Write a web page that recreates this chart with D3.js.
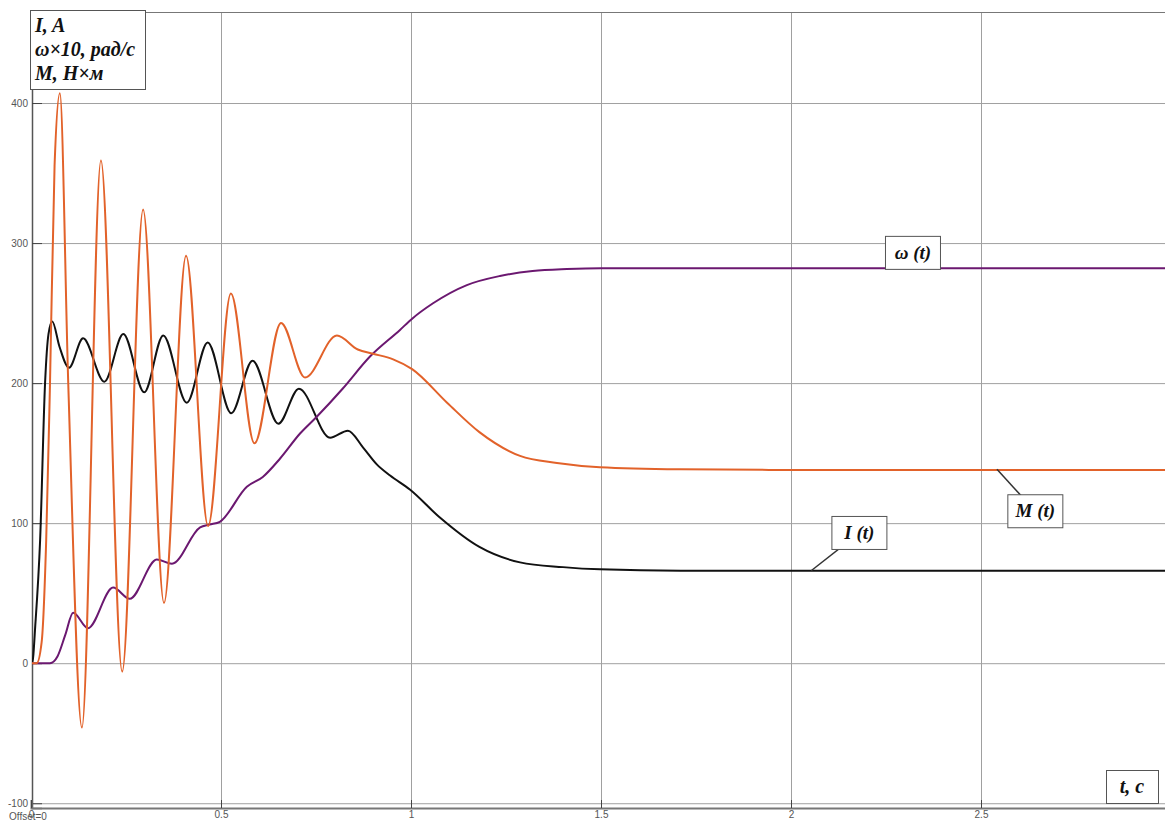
<!DOCTYPE html>
<html>
<head>
<meta charset="utf-8">
<script src="https://cdn.jsdelivr.net/npm/d3@7"></script>
<style>
  body { margin: 0; background: #fff; }
  svg { display: block; }
</style>
</head>
<body>
<div id="chart"></div>
<script>
// Current I(t), A
const iTime = [0, 0.003, 0.012, 0.024, 0.037, 0.046, 0.056, 0.075, 0.1, 0.137, 0.193, 0.243, 0.298, 0.348, 0.41, 0.465, 0.527, 0.583, 0.651, 0.705, 0.787, 0.834, 0.874, 0.91, 0.945, 0.997, 1.076, 1.18, 1.287, 1.4, 1.497, 1.71, 2.0, 2.5, 3.0];
const iValue = [0, 0, 30, 88, 200, 235, 244, 226, 211, 232, 201, 235, 193.5, 234, 186, 229, 178.5, 216, 171, 196, 161, 166, 154, 142, 134, 124, 104, 83, 72, 68.6, 67, 66, 66, 66, 66];

// Speed ω×10, рад/с
const wTime = [0, 0.05, 0.07, 0.09, 0.111, 0.15, 0.216, 0.26, 0.331, 0.371, 0.445, 0.47, 0.497, 0.568, 0.61, 0.655, 0.708, 0.752, 0.82, 0.892, 0.971, 1.003, 1.058, 1.147, 1.234, 1.32, 1.41, 1.5, 2.0, 3.0];
const wValue = [0, 0, 5, 20, 36, 25, 54, 46, 74, 71, 97, 99, 101, 126, 133, 146, 164, 176, 196, 219, 238, 246, 257, 270, 276.5, 280, 281.4, 282, 282, 282];

// Torque M(t), Н×м
const mTime = [0, 0.015, 0.028, 0.04, 0.05, 0.062, 0.076, 0.098, 0.134, 0.184, 0.24, 0.295, 0.35, 0.408, 0.466, 0.526, 0.588, 0.658, 0.721, 0.805, 0.86, 0.9, 0.953, 1.003, 1.095, 1.18, 1.287, 1.384, 1.497, 1.708, 2.0, 3.0];
const mValue = [0, 0, 15, 88, 200, 355, 407, 200, -46, 359, -6, 324, 43, 291, 98, 264, 157, 243, 204, 234, 224, 221, 217, 210, 186, 165, 148, 143, 140, 138.5, 138, 138];

const xTicks = [0, 0.5, 1, 1.5, 2, 2.5];
const yTicks = [-100, 0, 100, 200, 300, 400];

// curve labels: box centre and the point on the curve the leader goes to
const labelText = ['ω (t)', 'M (t)', 'I (t)'];
const labelBox = [[2.321, 293], [2.643, 108.5], [2.18, 93]];
const labelAnchor = [[2.292, 282], [2.542, 138.5], [2.053, 66]];

const W = 1165, H = 821;
const plotLeft = 32, plotTop = 12, plotBottom = 808;

const x = d3.scaleLinear().domain([0, 3]).range([31, 1171]);
const y = d3.scaleLinear().domain([-103.4, 465]).range([plotBottom, plotTop]);

const svg = d3.select('#chart').append('svg')
  .attr('width', W)
  .attr('height', H)
  .style('font-family', 'Liberation Sans, Arial, sans-serif');

svg.append('rect').attr('width', W).attr('height', H).attr('fill', '#fff');

svg.append('clipPath').attr('id', 'plot')
  .append('rect')
  .attr('x', plotLeft).attr('y', plotTop)
  .attr('width', W - plotLeft).attr('height', plotBottom - plotTop);

// grid
svg.append('g')
  .attr('transform', `translate(${plotLeft},0)`)
  .call(d3.axisLeft(y).tickValues(yTicks).tickSize(-(W - plotLeft)).tickFormat(''))
  .call(g => g.select('.domain').remove())
  .call(g => g.selectAll('line').attr('stroke', '#a0a0a0'));

svg.append('g')
  .attr('transform', `translate(0,${plotBottom})`)
  .call(d3.axisBottom(x).tickValues(xTicks.slice(1)).tickSize(-(plotBottom - plotTop)).tickFormat(''))
  .call(g => g.select('.domain').remove())
  .call(g => g.selectAll('line').attr('stroke', '#a0a0a0'));

// top frame
svg.append('line')
  .attr('x1', plotLeft).attr('x2', W)
  .attr('y1', plotTop + 0.5).attr('y2', plotTop + 0.5)
  .attr('stroke', '#777');

// axes
const yAxis = svg.append('g')
  .attr('transform', `translate(${plotLeft},0)`)
  .call(d3.axisLeft(y).tickValues(yTicks).tickSize(-10).tickPadding(4).tickFormat(d => String(d)))
  .call(g => g.select('.domain').attr('stroke', '#555').attr('stroke-width', 1.5));
yAxis.selectAll('line').attr('stroke', '#444');
yAxis.selectAll('text').attr('fill', '#555').attr('font-size', 10);

const xAxis = svg.append('g')
  .attr('transform', `translate(0,${plotBottom})`)
  .call(d3.axisBottom(x).tickValues(xTicks).tickSize(-8).tickPadding(3).tickFormat(d => String(d)))
  .call(g => g.select('.domain').attr('stroke', '#777').attr('stroke-width', 2));
xAxis.selectAll('line').attr('stroke', '#444');
xAxis.selectAll('text').attr('fill', '#555').attr('font-size', 10);

svg.append('text')
  .attr('x', 9).attr('y', 820)
  .attr('font-size', 10)
  .attr('fill', '#555')
  .text('Offset=0');

// curves
const line = d3.line()
  .x(d => x(d[0]))
  .y(d => y(d[1]))
  .curve(d3.curveMonotoneX);

const series = [
  { t: iTime, v: iValue, color: '#111111' },
  { t: wTime, v: wValue, color: '#6b1870' },
  { t: mTime, v: mValue, color: '#e2622a' }
];

const plot = svg.append('g').attr('clip-path', 'url(#plot)');
series.forEach(s => {
  plot.append('path')
    .datum(s.t.map((t, i) => [t, s.v[i]]))
    .attr('d', line)
    .attr('fill', 'none')
    .attr('stroke', s.color)
    .attr('stroke-width', 2);
});

// labels with leaders
const serif = 'Liberation Serif, Times New Roman, serif';
const bw = 55, bh = 33;
labelText.forEach((txt, i) => {
  const cx = x(labelBox[i][0]), cy = y(labelBox[i][1]);
  svg.append('line')
    .attr('x1', x(labelAnchor[i][0])).attr('y1', y(labelAnchor[i][1]))
    .attr('x2', cx).attr('y2', cy)
    .attr('stroke', '#333').attr('stroke-width', 1.5);
  svg.append('rect')
    .attr('x', cx - bw / 2).attr('y', cy - bh / 2)
    .attr('width', bw).attr('height', bh)
    .attr('fill', '#fff').attr('stroke', '#555');
  svg.append('text')
    .attr('x', cx).attr('y', cy + 6)
    .attr('text-anchor', 'middle')
    .attr('font-family', serif)
    .attr('font-size', 19)
    .attr('font-weight', 'bold')
    .attr('font-style', 'italic')
    .attr('fill', '#111')
    .text(txt);
});

// axis title boxes
svg.append('rect')
  .attr('x', 30.5).attr('y', 10.5).attr('width', 115).attr('height', 79)
  .attr('fill', '#fff').attr('stroke', '#555');
const yTitle = ['I, A', 'ω×10, рад/с', 'M, Н×м'];
svg.append('text')
  .attr('font-family', serif)
  .attr('font-size', 20)
  .attr('font-weight', 'bold')
  .attr('font-style', 'italic')
  .attr('fill', '#111')
  .selectAll('tspan')
  .data(yTitle)
  .join('tspan')
  .attr('x', 35)
  .attr('y', (d, i) => 32 + i * 24)
  .text(d => d);

svg.append('rect')
  .attr('x', 1106.5).attr('y', 770.5).attr('width', 52).attr('height', 33)
  .attr('fill', '#fff').attr('stroke', '#555');
svg.append('text')
  .attr('x', 1132).attr('y', 793)
  .attr('text-anchor', 'middle')
  .attr('font-family', serif)
  .attr('font-size', 20)
  .attr('font-weight', 'bold')
  .attr('font-style', 'italic')
  .attr('fill', '#111')
  .text('t, c');
</script>
</body>
</html>
